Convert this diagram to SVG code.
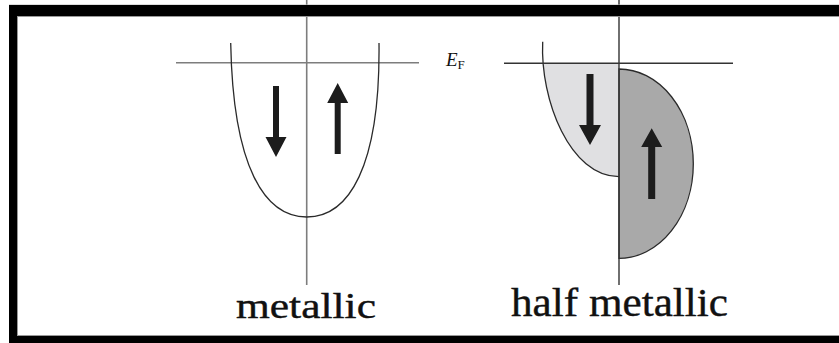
<svg xmlns="http://www.w3.org/2000/svg" width="839" height="343" viewBox="0 0 839 343">
  <style>
    .axis-m { stroke: #7d7d7d; stroke-width: 1.6; fill: none; }
    .axis-h { stroke: #333; stroke-width: 1.4; fill: none; }
    .curve { stroke: #2a2a2a; stroke-width: 1.3; fill: none; }
    .arrow { fill: #1c1c1c; }
    .label { font-family: "Liberation Serif", "Times New Roman", serif; fill: #111; }
  </style>
  <defs>
    <clipPath id="belowEF">
      <rect x="500" y="63.3" width="200" height="200"/>
    </clipPath>
  </defs>
  <rect x="0" y="0" width="839" height="343" fill="#fff"/>

  <g id="metallic">
    <line class="axis-m" x1="306.7" y1="0" x2="306.7" y2="285"/>
    <line class="axis-m" x1="176" y1="62.7" x2="419" y2="62.7"/>
    <path class="curve" d="M230.7,43 C233,168 265,217 306.7,217 C348.4,217 380.4,168 379,43"/>
    <path class="arrow" d="M273,86 h6 v51 h7.5 l-10.5,20 l-10.5,-20 h7.5 z"/>
    <path class="arrow" d="M334.7,154 h6 v-51 h7.5 l-10.5,-20 l-10.5,20 h7.5 z"/>
    <text class="label" font-family="Liberation Serif, serif" x="236" y="317.7" font-size="36" textLength="140" lengthAdjust="spacingAndGlyphs" stroke="#111" stroke-width="0.4">metallic</text>
  </g>

  <g id="half-metallic">
    <path d="M542.7,41.7 C540,100 570,176.7 619,176.7 L619,41.7 Z" fill="#e0e0e2" clip-path="url(#belowEF)"/>
    <path class="curve" d="M542.7,41.7 C540,100 570,176.7 619,176.7"/>
    <path d="M619,69 A74.3,94.7 0 0 1 619,258.4 Z" fill="#a9a9a9" stroke="#2a2a2a" stroke-width="1.3"/>
    <line class="axis-h" x1="619" y1="0" x2="619" y2="285"/>
    <line class="axis-h" x1="504" y1="63.3" x2="733" y2="63.3"/>
    <path class="arrow" d="M586.5,74 h7 v51 h7.5 l-11,20 l-11,-20 h7.5 z"/>
    <path class="arrow" d="M648.2,199 h7 v-52 h7 l-10.5,-18.7 l-10.5,18.7 h7 z"/>
    <text class="label" font-family="Liberation Serif, serif" x="446" y="65.7" font-size="19" font-style="italic" fill="#3c3c55">E<tspan font-size="13" font-style="normal" dy="3">F</tspan></text>
    <text class="label" font-family="Liberation Serif, serif" x="511" y="315.7" font-size="41" textLength="217" lengthAdjust="spacingAndGlyphs" stroke="#111" stroke-width="0.4">half metallic</text>
  </g>

  <g id="frame" fill="#000">
    <rect x="9" y="4.5" width="830" height="1" fill="#bbb"/>
    <rect x="9" y="5" width="830" height="11"/>
    <rect x="9" y="5" width="8" height="338"/>
    <rect x="9" y="336" width="830" height="7"/>
    <rect x="17" y="16" width="822" height="1" fill="#999"/>
    <rect x="17" y="335" width="822" height="1" fill="#999"/>
    <rect x="17" y="16" width="1" height="320" fill="#999"/>
  </g>
</svg>
